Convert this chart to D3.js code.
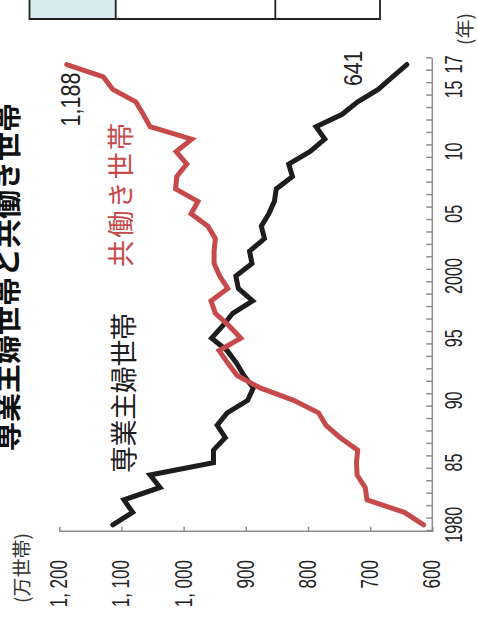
<!DOCTYPE html>
<html>
<head>
<meta charset="utf-8">
<script src="https://cdn.jsdelivr.net/npm/d3@7"></script>
<style>
  body { margin: 0; background: #fff; }
  svg { display: block; }
</style>
</head>
<body>
<div id="chart"></div>
<script>
// years on the category axis
var years = d3.range(1980, 2018);
// 専業主婦世帯 (万世帯)
var sengyo = [1114, 1082, 1096, 1038, 1054, 952, 952, 933, 946, 930,
              897, 888, 903, 915, 930, 955, 937, 921, 889, 912,
              916, 890, 894, 870, 875, 863, 854, 851, 825, 831,
              797, 773, 787, 745, 720, 687, 664, 641];
// 共働き世帯 (万世帯)
var tomo = [614, 645, 705, 708, 721, 722, 720, 748, 771, 783,
            823, 877, 914, 929, 943, 908, 927, 949, 956, 929,
            942, 951, 951, 949, 961, 988, 977, 1013, 1011, 995,
            1012, 987, 1054, 1065, 1077, 1114, 1129, 1188];
var valueTicks = [600, 700, 800, 900, 1000, 1100, 1200];
var valueLabels = ["600", "700", "800", "900", "1, 000", "1, 100", "1, 200"];
var yearTicks = [1980, 1985, 1990, 1995, 2000, 2005, 2010, 2015, 2017];
var yearLabels = ["1980", "85", "90", "95", "2000", "05", "10", "15", "17"];

var width = 478, height = 618;
var black = "#1e1c1d", red = "#c64a4b", gray = "#8d8d8d";
var jp = "'Noto Sans CJK JP', 'Noto Sans', sans-serif";
var num = "'Liberation Sans', Arial, sans-serif";

var svg = d3.select("#chart").append("svg")
    .attr("width", width)
    .attr("height", height);

// cut-off table above the chart
var tbl = svg.append("g");
tbl.append("rect").attr("x", 29.5).attr("y", -2).attr("width", 86).attr("height", 21)
    .attr("fill", "#d9ecf2");
tbl.append("path")
    .attr("d", "M29.5,0V19H380V0M115.7,0V19M275.3,0V19")
    .attr("fill", "none").attr("stroke", "#222").attr("stroke-width", 1.8);

// chart is drawn unrotated (618 wide, 478 high) and turned 90deg
var g = svg.append("g").attr("transform", "translate(0," + height + ") rotate(-90)");

var x = d3.scaleLinear().domain([1979.5, 2017.5]).range([87, 559.7]);
var y = d3.scaleLinear().domain([600, 1200]).range([432.3, 59.3]);

// condensed number text
function numText(u, v, str, size, sx, anchor) {
    return g.append("text")
        .attr("transform", "translate(" + u + "," + v + ") scale(" + sx + ",1)")
        .attr("font-family", num)
        .attr("font-size", size)
        .attr("text-anchor", anchor)
        .attr("fill", "#222")
        .text(str);
}

// axes
var xAxis = d3.axisBottom(x)
    .tickValues(d3.range(1979.5, 2018, 1))
    .tickSize(-6).tickSizeOuter(0).tickFormat("");
var yAxis = d3.axisLeft(y)
    .tickValues(valueTicks)
    .tickSize(-5).tickSizeOuter(0).tickFormat("");
var gx = g.append("g").attr("transform", "translate(0," + y(600) + ")").call(xAxis);
var gy = g.append("g").attr("transform", "translate(86.3,0)").call(yAxis);
[gx, gy].forEach(function(a) {
    a.selectAll("path, line").attr("stroke", gray).attr("stroke-width", 1.5);
});
gx.select(".domain").attr("d", "M86.3,0H" + x(2017.5));

valueTicks.forEach(function(t, i) {
    numText(58, y(t) + 8, valueLabels[i], 23, 0.74, "end");
});
yearTicks.forEach(function(t, i) {
    numText(x(t), 462, yearLabels[i], 23, 0.7, "middle");
});

g.append("text").attr("x", 15).attr("y", 29)
    .attr("font-family", jp).attr("font-size", 19).attr("fill", "#333")
    .text("(万世帯)");
g.append("text").attr("x", 573).attr("y", 472)
    .attr("font-family", jp).attr("font-size", 19).attr("fill", "#333")
    .text("(年)");

// lines
var line = d3.line()
    .x(function(d, i) { return x(years[i]); })
    .y(function(d) { return y(d); });
g.append("path").datum(sengyo).attr("d", line)
    .attr("fill", "none").attr("stroke", black).attr("stroke-width", 5)
    .attr("stroke-linecap", "round");
g.append("path").datum(tomo).attr("d", line)
    .attr("fill", "none").attr("stroke", red).attr("stroke-width", 5)
    .attr("stroke-linecap", "round");

// end values
numText(x(2017) - 8, y(1188) + 13, "1,188", 27, 0.8, "end");
numText(x(2017) + 14, y(641) - 45, "641", 26, 0.82, "end");

// series names and title
g.append("text").attr("x", 351).attr("y", 131)
    .attr("font-family", jp).attr("font-size", 27).attr("fill", red)
    .attr("textLength", 144).attr("lengthAdjust", "spacing")
    .text("共働き世帯");
g.append("text").attr("x", 145).attr("y", 134)
    .attr("font-family", jp).attr("font-size", 27).attr("fill", black)
    .attr("textLength", 160).attr("lengthAdjust", "spacing")
    .text("専業主婦世帯");
g.append("text").attr("x", 167).attr("y", 18)
    .attr("font-family", jp).attr("font-size", 29).attr("font-weight", 700).attr("fill", "#111")
    .attr("textLength", 348).attr("lengthAdjust", "spacing")
    .text("専業主婦世帯と共働き世帯");
</script>
</body>
</html>
